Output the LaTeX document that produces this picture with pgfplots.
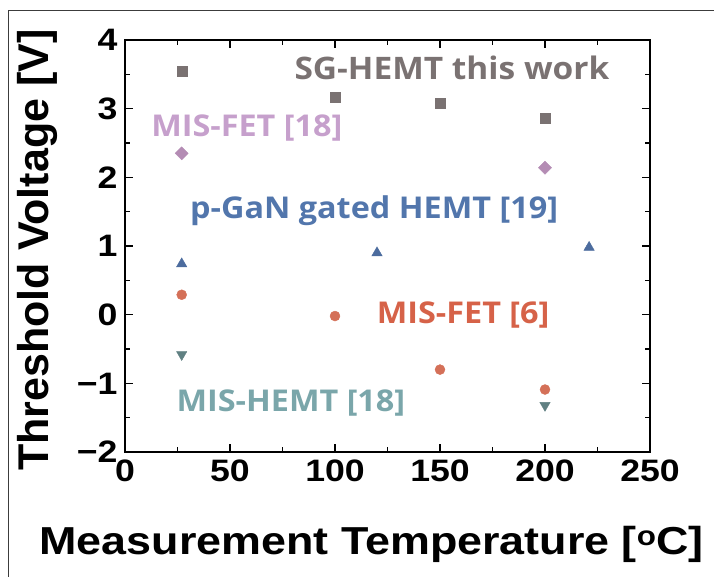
\documentclass[border=0pt]{standalone}
\usepackage{fontspec}
\setmainfont{Liberation Sans}[FakeStretch=1.15]
\newfontfamily\plainfont{Liberation Sans}
\newfontfamily\lblfont{Open Sans}[FakeStretch=1.08]
\usepackage{pgfplots}
\pgfplotsset{compat=1.18}

\definecolor{sgcol}{RGB}{122,114,114}
\definecolor{mf18}{RGB}{180,140,180}
\definecolor{mf18t}{RGB}{198,160,204}
\definecolor{pgan}{RGB}{76,108,158}
\definecolor{pgant}{RGB}{82,118,172}
\definecolor{mf6}{RGB}{212,112,88}
\definecolor{mf6t}{RGB}{214,98,72}
\definecolor{mh}{RGB}{96,128,130}
\definecolor{mht}{RGB}{122,166,170}
\definecolor{frame}{RGB}{60,60,60}

\begin{document}
\begin{tikzpicture}
\useasboundingbox (-125pt,-124pt) rectangle (589pt,452pt);
\draw[frame, line width=1pt] (-116pt,-130pt) -- (-116pt,441pt) -- (600pt,441pt);
\begin{axis}[
  scale only axis, width=525pt, height=412pt,
  xmin=0, xmax=250, ymin=-2, ymax=4,
  xtick={0,50,...,250}, ytick={-2,-1,...,4},
  yticklabels={−2,−1,0,1,2,3,4},
  minor x tick num=1, minor y tick num=1,
  tick align=inside, major tick length=8pt, minor tick length=5pt,
  axis line style={line width=1.8pt},
  every tick/.style={black, line width=1.4pt},
  /pgf/number format/assume math mode=true,
  tick label style={font=\fontsize{31}{31}\selectfont\bfseries},
  xticklabel style={yshift=-4pt},
  yticklabel style={xshift=-4pt},
  xlabel={Measurement Temperature [\textsuperscript{o}C]},
  ylabel={Threshold Voltage [V]},
  xlabel style={font=\fontsize{39}{39}\selectfont\bfseries, at={(axis description cs:0.47,-0.225)}, anchor=center},
  ylabel style={font=\plainfont\fontsize{43}{43}\selectfont\bfseries, at={(axis description cs:-0.166,0.49)}, anchor=center},
  clip=false,
  only marks,
]
\addplot[mark=square*, mark size=5pt, draw=sgcol, fill=sgcol] coordinates {(27,3.54) (100,3.16) (150,3.08) (200,2.86)};
\addplot[mark=square*, mark options={rotate=45}, mark size=4.6pt, draw=mf18, fill=mf18] coordinates {(27,2.35) (200,2.14)};
\addplot[mark=triangle*, mark size=6pt, draw=pgan, fill=pgan] coordinates {(27,0.74) (120,0.9) (221,0.98)};
\addplot[mark=*, mark size=5pt, draw=mf6, fill=mf6] coordinates {(27,0.29) (100,-0.02) (150,-0.8) (200,-1.09)};
\addplot[mark=triangle*, mark options={rotate=180}, mark size=6pt, draw=mh, fill=mh] coordinates {(27,-0.58) (200,-1.32)};

\node[text=sgcol, font=\lblfont\fontsize{31}{31}\selectfont\bfseries] at (axis cs:155.7,3.59) {SG-HEMT this work};
\node[text=mf18t, font=\lblfont\fontsize{30}{30}\selectfont\bfseries] at (axis cs:58,2.72) {MIS-FET [18]};
\node[text=pgant, font=\lblfont\fontsize{30}{30}\selectfont\bfseries] at (axis cs:118.6,1.51) {p-GaN gated HEMT [19]};
\node[text=mf6t, font=\lblfont\fontsize{30}{30}\selectfont\bfseries] at (axis cs:161,0.0) {MIS-FET [6]};
\node[text=mht, font=\lblfont\fontsize{30}{30}\selectfont\bfseries] at (axis cs:79,-1.28) {MIS-HEMT [18]};
\end{axis}
\end{tikzpicture}
\end{document}
